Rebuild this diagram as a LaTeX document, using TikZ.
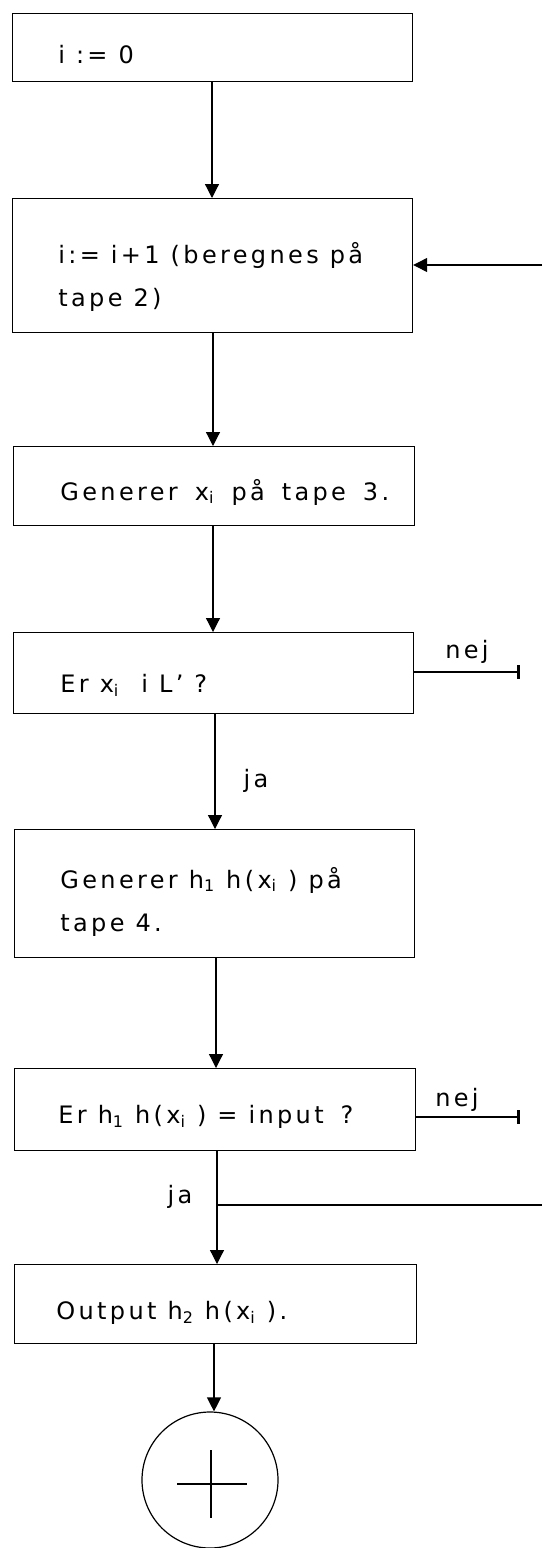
\documentclass[tikz,border=0pt]{standalone}
\usepackage{fontspec}
\setmainfont{DejaVu Sans}[LetterSpace=14]
\usetikzlibrary{arrows.meta}
\begin{document}
\begin{tikzpicture}[x=0.5pt,y=-0.5pt,
  box/.style={draw,line width=0.6pt,rectangle,inner sep=0pt,anchor=north west},
  txt/.style={anchor=west,inner sep=0pt,font=\fontsize{12}{14}\selectfont},
  lbl/.style={inner sep=0pt,font=\fontsize{12}{14}\selectfont},
  flow/.style={line width=0.6pt,-{Triangle[length=7pt,width=7pt]}},
  endbar/.style={line width=0.6pt,-{Bar[width=7pt,line width=1.4pt]}},
  plain/.style={line width=0.6pt}]
\useasboundingbox (0,0) rectangle (542,1548);
% boxes
\node[box,minimum width=200pt,minimum height=34pt] (b1) at (12,13) {};
\node[box,minimum width=200pt,minimum height=67pt] (b2) at (12,198) {};
\node[box,minimum width=200.5pt,minimum height=39.5pt] (b3) at (13,446) {};
\node[box,minimum width=200pt,minimum height=40.5pt] (b4) at (13,632) {};
\node[box,minimum width=200pt,minimum height=64pt] (b5) at (14,829) {};
\node[box,minimum width=200.5pt,minimum height=41pt] (b6) at (14,1068) {};
\node[box,minimum width=201pt,minimum height=39.5pt] (b7) at (14,1264) {};
\node[draw,line width=0.6pt,circle,minimum size=68pt,inner sep=0pt] (end) at (210,1480) {};
% texts
\node[txt] (t1) at (58,55) {i := 0};
\node[txt] (t2a) at (58,255) {i:= i+1 (beregnes på};
\node[txt] (t2b) at (58,300) {tape 2)};
\node[txt] (t3) at (60,492) {Generer\hspace{3pt} x\textsubscript{i}\hspace{3pt} på\hspace{3pt} tape\hspace{3pt} 3.};
\node[txt] (t4) at (60,685) {Er x\textsubscript{i} \ i L' ?};
\node[txt] (t5a) at (60,880) {Generer h\textsubscript{1} h(x\textsubscript{i} ) på};
\node[txt] (t5b) at (60,925) {tape 4.};
\node[txt] (t6) at (58,1117) {Er h\textsubscript{1} h(x\textsubscript{i} ) = input\hspace{3pt} ?};
\node[txt] (t7) at (56,1313) {Output h\textsubscript{2} h(x\textsubscript{i} ).};
% labels
\node[lbl] (n1) at (467,652) {nej};
\node[lbl] (n2) at (457,1100) {nej};
\node[lbl] (j1) at (256,781) {ja};
\node[lbl] (j2) at (180,1197) {ja};
% connectors
\draw[flow] (b1.south -| 212,0) -- (b2.north -| 212,0);
\draw[flow] (b2.south -| 213,0) -- (b3.north -| 213,0);
\draw[flow] (b3.south -| 213,0) -- (b4.north -| 213,0);
\draw[flow] (b4.south -| 215,0) -- (b5.north -| 215,0);
\draw[flow] (b5.south -| 216,0) -- (b6.north -| 216,0);
\draw[flow] (b6.south -| 217,0) -- (b7.north -| 217,0);
\draw[flow] (b7.south -| 214,0) -- (end.north -| 214,0);
% return loop
\coordinate (r2) at (542,265);
\draw[flow] (r2) -- (r2 -| b2.east);
\coordinate (e4) at (520,672);
\draw[endbar] (e4 -| b4.east) -- (e4);
\coordinate (e6) at (520,1117);
\draw[endbar] (e6 -| b6.east) -- (e6);
\coordinate (jb) at (217,1205);
\coordinate (jr) at (542,1205);
\draw[plain] (jb) -- (jr);
% stop symbol cross
\coordinate (cl) at (177,1484);
\coordinate (cr) at (247,1484);
\coordinate (ct) at (211,1450);
\coordinate (cb) at (211,1518);
\draw[plain] (cl) -- (cr);
\draw[plain] (ct) -- (cb);
\end{tikzpicture}
\end{document}
